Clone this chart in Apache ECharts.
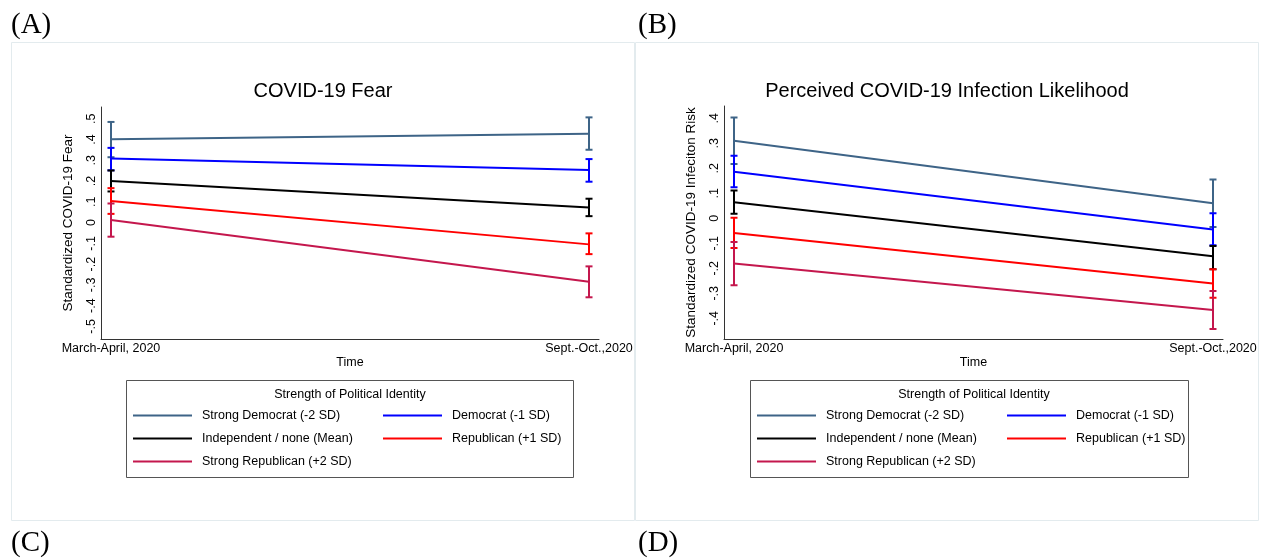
<!DOCTYPE html>
<html>
<head>
<meta charset="utf-8">
<script src="https://cdn.jsdelivr.net/npm/echarts@6/dist/echarts.min.js"></script>
<style>
html,body{margin:0;padding:0;background:#fff;}
#c{width:1261px;height:560px;}
</style>
</head>
<body>
<div id="c"></div>
<script>
// ---------- data ----------
const periods = ['March-April, 2020', 'Sept.-Oct.,2020'];
const periodPos = [0, 1];
const groups = ['Strong Democrat (-2 SD)', 'Democrat (-1 SD)', 'Independent / none (Mean)', 'Republican (+1 SD)', 'Strong Republican (+2 SD)'];

// Panel A: COVID-19 Fear (order follows groups)
const fearMarchMean = [0.402, 0.309, 0.200, 0.104, 0.012];
const fearMarchLo   = [0.315, 0.252, 0.150, 0.042, -0.068];
const fearMarchHi   = [0.485, 0.360, 0.251, 0.166, 0.092];
const fearSeptMean  = [0.428, 0.253, 0.073, -0.105, -0.285];
const fearSeptLo    = [0.351, 0.197, 0.031, -0.152, -0.360];
const fearSeptHi    = [0.507, 0.306, 0.115, -0.052, -0.211];

// Panel B: Perceived infection likelihood
const riskMarchMean = [0.310, 0.186, 0.064, -0.059, -0.181];
const riskMarchLo   = [0.217, 0.124, 0.018, -0.119, -0.268];
const riskMarchHi   = [0.403, 0.250, 0.111, 0.002, -0.095];
const riskSeptMean  = [0.060, -0.045, -0.152, -0.261, -0.367];
const riskSeptLo    = [-0.035, -0.108, -0.204, -0.318, -0.443];
const riskSeptHi    = [0.155, 0.020, -0.111, -0.204, -0.291];

// tick labels
const fearTicks = [-0.5, -0.4, -0.3, -0.2, -0.1, 0, 0.1, 0.2, 0.3, 0.4, 0.5];
const fearTickLabels = ['-.5', '-.4', '-.3', '-.2', '-.1', '0', '.1', '.2', '.3', '.4', '.5'];
const riskTicks = [-0.4, -0.3, -0.2, -0.1, 0, 0.1, 0.2, 0.3, 0.4];
const riskTickLabels = ['-.4', '-.3', '-.2', '-.1', '0', '.1', '.2', '.3', '.4'];

// ---------- style ----------
const colors = ['#3e6487', '#0000ff', '#000000', '#ff0000', '#c4174d'];
const FONT = '"Liberation Sans", Arial, sans-serif';
const SERIF = '"Liberation Serif", "Times New Roman", serif';

const chart = echarts.init(document.getElementById('c'), null, {renderer: 'canvas'});

function tickLabelOf(ticks, labels) {
  return function (v) {
    for (let i = 0; i < ticks.length; i++) if (Math.abs(ticks[i] - v) < 1e-6) return labels[i];
    return '';
  };
}

function xAxisFor(gi) {
  return {
    type: 'value', gridIndex: gi, min: -0.0209, max: 1.0209,
    name: 'Time', nameLocation: 'middle', nameGap: 17,
    nameTextStyle: {fontFamily: FONT, fontSize: 12.5, color: '#000'},
    axisLine: {show: true, onZero: false, lineStyle: {color: '#333', width: 1}},
    axisTick: {show: false},
    splitLine: {show: false},
    axisLabel: {
      customValues: periodPos, margin: 3,
      fontFamily: FONT, fontSize: 12.5, color: '#000',
      formatter: function (v) { return periods[Math.round(v)]; }
    }
  };
}
function yAxisFor(gi, min, max, ticks, labels, title) {
  return {
    type: 'value', gridIndex: gi, min: min, max: max,
    name: title, nameLocation: 'middle', nameGap: 26,
    nameTextStyle: {fontFamily: FONT, fontSize: 13.5, color: '#000'},
    axisLine: {show: true, onZero: false, lineStyle: {color: '#333', width: 1}},
    axisTick: {show: false},
    splitLine: {show: false},
    axisLabel: {
      customValues: ticks, rotate: 90, margin: 3,
      fontFamily: FONT, fontSize: 12.5, color: '#000',
      formatter: tickLabelOf(ticks, labels)
    }
  };
}

function errRender(params, api) {
  const x = api.value(0), lo = api.value(1), hi = api.value(2);
  const a = api.coord([x, hi]);
  const b = api.coord([x, lo]);
  const c = api.visual('color');
  const w = 3.5;
  const st = {stroke: c, lineWidth: 2};
  return {
    type: 'group',
    children: [
      {type: 'line', shape: {x1: a[0], y1: a[1], x2: b[0], y2: b[1]}, style: st},
      {type: 'line', shape: {x1: a[0] - w, y1: a[1], x2: a[0] + w, y2: a[1]}, style: st},
      {type: 'line', shape: {x1: b[0] - w, y1: b[1], x2: b[0] + w, y2: b[1]}, style: st}
    ]
  };
}

const series = [];
function addPanel(pi, mMean, mLo, mHi, sMean, sLo, sHi) {
  groups.forEach(function (g, i) {
    series.push({
      type: 'custom', name: g, xAxisIndex: pi, yAxisIndex: pi,
      color: colors[i], renderItem: errRender,
      encode: {x: 0, y: [1, 2]},
      data: [[periodPos[0], mLo[i], mHi[i]], [periodPos[1], sLo[i], sHi[i]]],
      z: 2, silent: true
    });
  });
  groups.forEach(function (g, i) {
    series.push({
      type: 'line', name: g, xAxisIndex: pi, yAxisIndex: pi,
      color: colors[i], symbol: 'none', lineStyle: {width: 2, color: colors[i]},
      data: [[periodPos[0], mMean[i]], [periodPos[1], sMean[i]]],
      z: 3, silent: true, animation: false
    });
  });
}
addPanel(0, fearMarchMean, fearMarchLo, fearMarchHi, fearSeptMean, fearSeptLo, fearSeptHi);
addPanel(1, riskMarchMean, riskMarchLo, riskMarchHi, riskSeptMean, riskSeptLo, riskSeptHi);

function legendFor(names, left) {
  return {
    data: names, left: left, top: 408, orient: 'vertical', padding: 0,
    icon: 'rect', itemWidth: 59, itemHeight: 2, itemGap: 8,
    selectedMode: false,
    textStyle: {fontFamily: FONT, fontSize: 12.5, color: '#000', lineHeight: 15, padding: [0, 0, 0, 5]}
  };
}

const option = {
  animation: false,
  backgroundColor: '#fff',
  title: [
    {text: 'COVID-19 Fear', left: 323, top: 81, textAlign: 'center', padding: 0,
     textStyle: {fontFamily: FONT, fontSize: 20, fontWeight: 'normal', color: '#000'}},
    {text: 'Perceived COVID-19 Infection Likelihood', left: 947, top: 81, textAlign: 'center', padding: 0,
     textStyle: {fontFamily: FONT, fontSize: 20, fontWeight: 'normal', color: '#000'}}
  ],
  grid: [
    {left: 101, top: 107, width: 498, height: 232},
    {left: 724, top: 106, width: 499, height: 233}
  ],
  xAxis: [xAxisFor(0), xAxisFor(1)],
  yAxis: [
    yAxisFor(0, -0.561, 0.557, fearTicks, fearTickLabels, 'Standardized COVID-19 Fear'),
    yAxisFor(1, -0.483, 0.449, riskTicks, riskTickLabels, 'Standardized COVID-19 Infeciton Risk')
  ],
  legend: [
    legendFor([groups[0], groups[2], groups[4]], 133),
    legendFor([groups[1], groups[3]], 383),
    legendFor([groups[0], groups[2], groups[4]], 757),
    legendFor([groups[1], groups[3]], 1007)
  ],
  graphic: [
    {type: 'rect', shape: {x: 11.5, y: 42.5, width: 623, height: 478}, style: {fill: 'none', stroke: '#e3ebee', lineWidth: 1}, z: -10},
    {type: 'rect', shape: {x: 635.5, y: 42.5, width: 623, height: 478}, style: {fill: 'none', stroke: '#e3ebee', lineWidth: 1}, z: -10},
    {type: 'rect', shape: {x: 126.5, y: 380.5, width: 447, height: 97}, style: {fill: 'none', stroke: '#555', lineWidth: 1}},
    {type: 'rect', shape: {x: 750.5, y: 380.5, width: 438, height: 97}, style: {fill: 'none', stroke: '#555', lineWidth: 1}},
    {type: 'text', x: 350, y: 395, style: {text: 'Strength of Political Identity', font: '12.5px ' + FONT, fill: '#000', textAlign: 'center', textVerticalAlign: 'middle'}},
    {type: 'text', x: 974, y: 395, style: {text: 'Strength of Political Identity', font: '12.5px ' + FONT, fill: '#000', textAlign: 'center', textVerticalAlign: 'middle'}},
    {type: 'text', x: 11, y: 25, style: {text: '(A)', font: '29px ' + SERIF, fill: '#000', textVerticalAlign: 'middle'}},
    {type: 'text', x: 638, y: 25, style: {text: '(B)', font: '29px ' + SERIF, fill: '#000', textVerticalAlign: 'middle'}},
    {type: 'text', x: 11, y: 543, style: {text: '(C)', font: '29px ' + SERIF, fill: '#000', textVerticalAlign: 'middle'}},
    {type: 'text', x: 638, y: 543, style: {text: '(D)', font: '29px ' + SERIF, fill: '#000', textVerticalAlign: 'middle'}}
  ],
  series: series
};
chart.setOption(option);
</script>
</body>
</html>
